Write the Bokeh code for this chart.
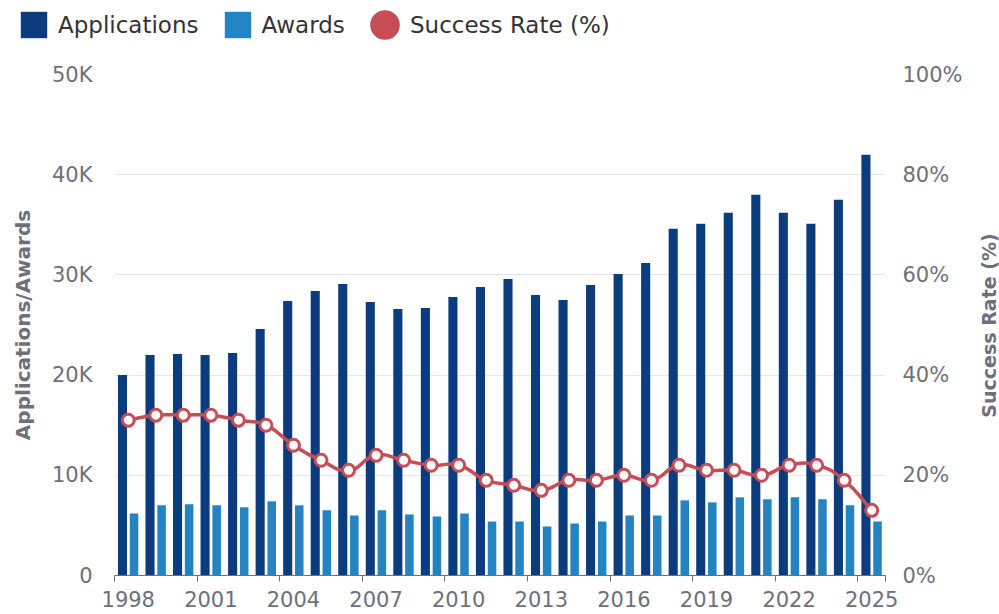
import math
from bokeh.plotting import figure
from bokeh.layouts import column, row
from bokeh.models import (Range1d, LinearAxis, FixedTicker, Legend, LegendItem, Label,
                          ColumnDataSource, CustomJSTickFormatter)
from bokeh.embed import file_html
from bokeh.resources import INLINE

years = list(range(1998, 2026))
applications = [20000, 22000, 22100, 22000, 22200, 24600, 27400, 28400, 29100, 27300,
                26600, 26700, 27800, 28800, 29600, 28000, 27500, 29000, 30100, 31200,
                34600, 35100, 36200, 38000, 36200, 35100, 37500, 42000]
awards = [6200, 7000, 7100, 7000, 6800, 7400, 7000, 6500, 6000, 6500,
          6100, 5900, 6200, 5400, 5400, 4900, 5200, 5400, 6000, 6000,
          7500, 7300, 7800, 7600, 7800, 7600, 7000, 5400]
success_rate = [31, 32, 32, 32, 31, 30, 26, 23, 21, 24, 23, 22, 22, 19, 18, 17,
                19, 19, 20, 19, 22, 21, 21, 20, 22, 22, 19, 13]
label_years = [1998, 2001, 2004, 2007, 2010, 2013, 2016, 2019, 2022, 2025]

C_APP = "#0b3d7e"
C_AW = "#2484c1"
C_RED = "#c64c56"
GREY = "#6e7079"
FONT = "DejaVu Sans"
NAN = float("nan")

x_mid = [y + 0.5 for y in years]
src = ColumnDataSource(dict(
    year=years,
    x_app=[y + 0.29 for y in years],
    x_aw=[y + 0.71 for y in years],
    x_mid=x_mid,
    applications=applications,
    awards=awards,
    rate=success_rate,
))

# smoothed line path (cubic segments through the data points, smoothing 0.5)
def smooth_segments(xs, ys, kx, ky, s=0.5):
    n = len(xs)
    before, after = [], []
    for i in range(n):
        px, py = (xs[i - 1], ys[i - 1]) if i > 0 else (xs[i], ys[i])
        nx, ny = (xs[i + 1], ys[i + 1]) if i < n - 1 else (xs[i], ys[i])
        vx, vy = nx - px, ny - py
        d0 = math.hypot((xs[i] - px) * kx, (ys[i] - py) * ky)
        d1 = math.hypot((nx - xs[i]) * kx, (ny - ys[i]) * ky)
        r = d1 / (d0 + d1) if (d0 + d1) > 0 else 0.5
        before.append((xs[i] - vx * s * (1 - r), ys[i] - vy * s * (1 - r)))
        after.append((xs[i] + vx * s * r, ys[i] + vy * s * r))
    return dict(
        x0=xs[:-1], y0=ys[:-1], x1=xs[1:], y1=ys[1:],
        cx0=[a[0] for a in after[:-1]], cy0=[a[1] for a in after[:-1]],
        cx1=[b[0] for b in before[1:]], cy1=[b[1] for b in before[1:]],
    )

seg_src = ColumnDataSource(smooth_segments(x_mid, success_rate, 27.5, 5.0))

def bare(fig):
    fig.frame_align = False
    fig.axis.visible = False
    fig.grid.visible = False
    fig.outline_line_color = None
    fig.background_fill_color = "white"
    fig.border_fill_color = "white"

# ---- legend strip ----
lf = figure(width=999, height=50, x_range=Range1d(0, 1), y_range=Range1d(0, 1),
            output_backend="svg", toolbar_location=None, min_border=0)
bare(lf)
# legend proxies (no visible data)
l_app = lf.vbar(x=[NAN], top=[NAN], width=1, fill_color=C_APP, line_color=None)
l_aw = lf.vbar(x=[NAN], top=[NAN], width=1, fill_color=C_AW, line_color=None)
l_rate = lf.ellipse(x=[NAN], y=[NAN], width=10, height=10, width_units="screen",
                    height_units="screen", fill_color=C_RED, line_color=None)

legA = Legend(items=[LegendItem(label="Applications", renderers=[l_app]),
                     LegendItem(label="Awards", renderers=[l_aw])],
              orientation="horizontal", location=(17, 9),
              glyph_width=33, glyph_height=33, label_standoff=8, spacing=22,
              padding=0, margin=0, border_line_color=None, background_fill_alpha=0,
              label_text_font=FONT, label_text_font_size="23px", label_text_color="#333333")
legB = Legend(items=[LegendItem(label="Success Rate (%)", renderers=[l_rate])],
              orientation="horizontal", location=(366, 7),
              glyph_width=37, glyph_height=37, label_standoff=7, spacing=0,
              padding=0, margin=0, border_line_color=None, background_fill_alpha=0,
              label_text_font=FONT, label_text_font_size="23px", label_text_color="#333333")
lf.add_layout(legA, "center")
lf.add_layout(legB, "center")

# ---- main chart ----
p = figure(width=969, height=564, x_range=Range1d(1998, 2026), y_range=Range1d(0, 50000),
           output_backend="svg", toolbar_location=None,
           min_border_left=114, min_border_right=84, min_border_top=24, min_border_bottom=39)
p.frame_align = False
p.extra_y_ranges = {"rate": Range1d(0, 100)}
p.outline_line_color = None
p.background_fill_color = "white"
p.border_fill_color = "white"

p.vbar(x="x_app", top="applications", width=0.33, source=src,
       fill_color=C_APP, line_color=None)
p.vbar(x="x_aw", top="awards", width=0.31, source=src,
       fill_color=C_AW, line_color=None)
p.bezier(x0="x0", y0="y0", x1="x1", y1="y1", cx0="cx0", cy0="cy0", cx1="cx1", cy1="cy1",
         source=seg_src, y_range_name="rate", line_color=C_RED, line_width=3.5,
         line_cap="round")
p.scatter(x="x_mid", y="rate", source=src, y_range_name="rate", size=12,
          fill_color="white", line_color=C_RED, line_width=3)

p.xgrid.visible = False
p.ygrid.grid_line_color = "#e0e6f1"
p.ygrid.grid_line_width = 1

yl = p.yaxis[0]
yl.ticker = FixedTicker(ticks=[0, 10000, 20000, 30000, 40000, 50000])
yl.formatter = CustomJSTickFormatter(code="return tick == 0 ? '0' : (tick/1000) + 'K'")
yl.axis_line_color = None
yl.major_tick_line_color = None
yl.minor_tick_line_color = None
yl.major_label_standoff = 16
yl.major_label_text_font = FONT
yl.major_label_text_font_size = "21px"
yl.major_label_text_color = GREY
yl.axis_label = "Applications/Awards"
yl.axis_label_text_font = FONT
yl.axis_label_text_font_style = "bold"
yl.axis_label_text_font_size = "20px"
yl.axis_label_text_color = GREY
yl.axis_label_standoff = 14

yr = LinearAxis(y_range_name="rate")
yr.ticker = FixedTicker(ticks=[0, 20, 40, 60, 80, 100])
yr.formatter = CustomJSTickFormatter(code="return tick + '%'")
yr.axis_line_color = None
yr.major_tick_line_color = None
yr.minor_tick_line_color = None
yr.major_label_standoff = 11
yr.major_label_text_font = FONT
yr.major_label_text_font_size = "21px"
yr.major_label_text_color = GREY
p.add_layout(yr, "right")

xb = p.xaxis[0]
xb.ticker = FixedTicker(ticks=[y + 0.5 for y in label_years],
                        minor_ticks=label_years + [2026])
xb.formatter = CustomJSTickFormatter(code="return String(Math.floor(tick))")
xb.axis_line_color = GREY
xb.major_tick_out = 0
xb.major_tick_in = 0
xb.minor_tick_out = 6
xb.minor_tick_in = 0
xb.minor_tick_line_color = GREY
xb.major_label_standoff = 9
xb.major_label_text_font = FONT
xb.major_label_text_font_size = "21px"
xb.major_label_text_color = GREY

# ---- right-hand strip carrying the secondary axis title (bottom-to-top) ----
rf = figure(width=30, height=564, x_range=Range1d(0, 1), y_range=Range1d(0, 1),
            output_backend="svg", toolbar_location=None, min_border=0)
bare(rf)
rf.add_layout(Label(x=19, y=289, x_units="screen", y_units="screen",
                    text="Success Rate (%)", angle=math.pi / 2,
                    text_align="center", text_baseline="middle",
                    text_font=FONT, text_font_style="bold", text_font_size="19px",
                    text_color=GREY))

layout = column(lf, row(p, rf, spacing=0), spacing=0)
open("out.html", "w").write(file_html(layout, INLINE))
